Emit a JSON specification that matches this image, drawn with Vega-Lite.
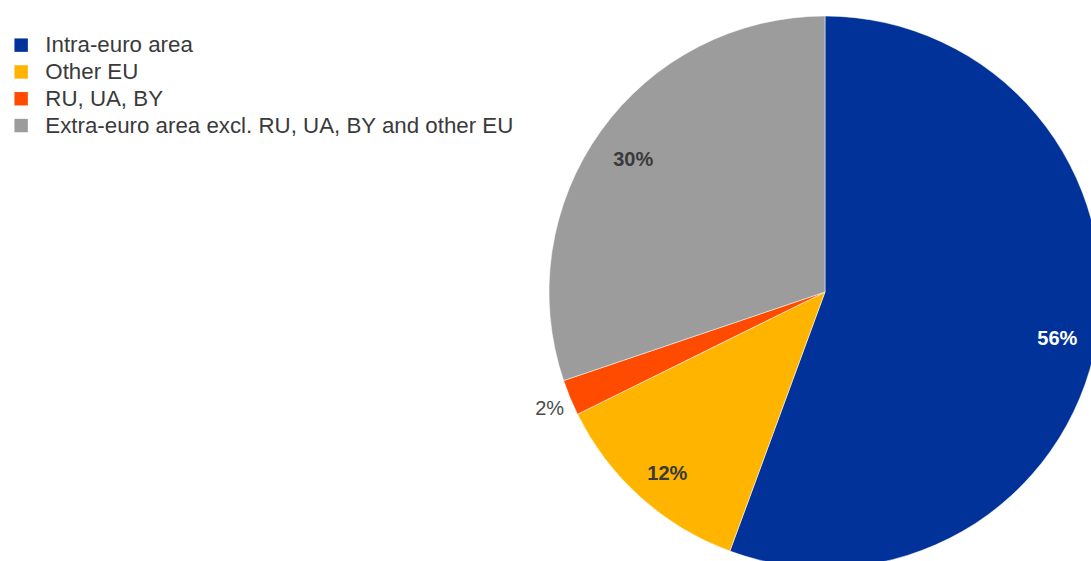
{
  "$schema": "https://vega.github.io/schema/vega-lite/v6.json",
  "width": 1650,
  "height": 584,
  "padding": 0,
  "autosize": {"type": "none"},
  "background": "white",
  "config": {"view": {"stroke": null}},
  "data": {
    "values": [
      {"category": "Intra-euro area", "share": 0.556, "order": 1},
      {"category": "Other EU", "share": 0.121, "order": 2},
      {"category": "RU, UA, BY", "share": 0.021, "order": 3},
      {"category": "Extra-euro area excl. RU, UA, BY and other EU", "share": 0.302, "order": 4}
    ]
  },
  "encoding": {
    "theta": {"field": "share", "type": "quantitative", "stack": true},
    "order": {"field": "order", "type": "quantitative"}
  },
  "layer": [
    {
      "mark": {"type": "arc", "outerRadius": 276, "stroke": "white", "strokeWidth": 0.5},
      "encoding": {
        "color": {
          "field": "category",
          "type": "nominal",
          "scale": {
            "domain": ["Intra-euro area", "Other EU", "RU, UA, BY", "Extra-euro area excl. RU, UA, BY and other EU"],
            "range": ["#003299", "#FFB400", "#FF4B00", "#9C9C9C"]
          },
          "legend": {
            "title": null,
            "orient": "none",
            "legendX": 10,
            "legendY": 34,
            "padding": 0,
            "symbolType": "square",
            "symbolSize": 180,
            "symbolStrokeWidth": 0,
            "labelFont": "Liberation Sans",
            "labelFontSize": 22.3,
            "labelColor": "#3A3A3A",
            "labelOffset": 13,
            "rowPadding": 3.8,
            "labelLimit": 800
          }
        }
      }
    },
    {
      "mark": {"type": "text", "radius": 236, "dy": 6, "font": "Liberation Sans", "fontSize": 20, "fontWeight": "bold"},
      "encoding": {
        "text": {
          "condition": {"test": "datum.category !== 'RU, UA, BY'", "field": "share", "type": "quantitative", "format": ".0%"},
          "value": ""
        },
        "color": {
          "condition": {"test": "datum.category === 'Intra-euro area'", "value": "#FFFFFF"},
          "value": "#3A3A3A"
        }
      }
    },
    {
      "mark": {"type": "text", "radius": 298, "dy": 3, "font": "Liberation Sans", "fontSize": 20, "color": "#4A4A4A"},
      "encoding": {
        "text": {
          "condition": {"test": "datum.category === 'RU, UA, BY'", "field": "share", "type": "quantitative", "format": ".0%"},
          "value": ""
        }
      }
    }
  ]
}
